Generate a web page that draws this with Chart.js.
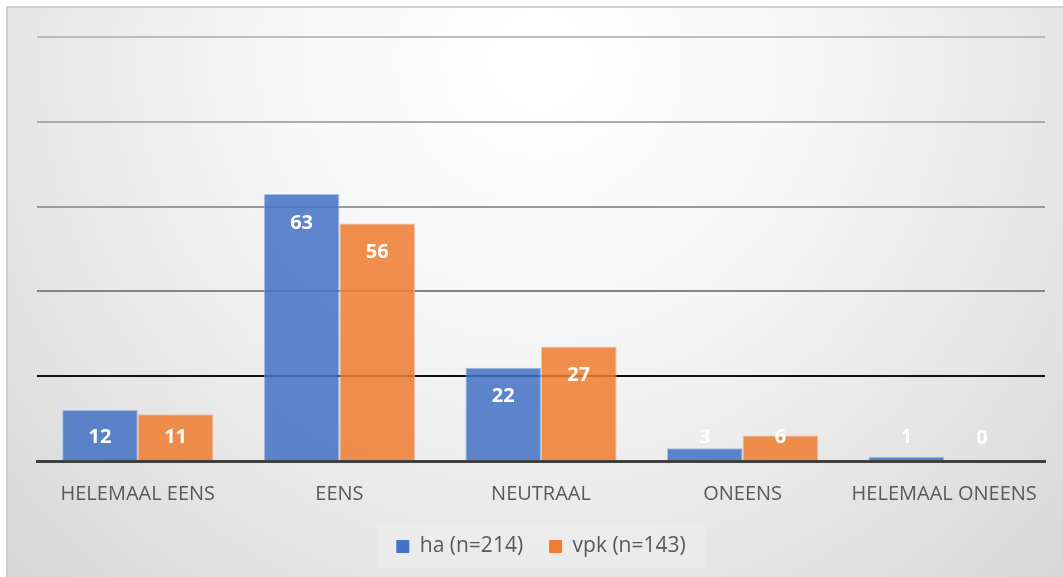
<!DOCTYPE html>
<html>
<head>
<meta charset="utf-8">
<script src="https://cdn.jsdelivr.net/npm/chart.js@4.4.1/dist/chart.umd.min.js"></script>
<style>
  html, body { margin: 0; padding: 0; background: #ffffff; }
  #wrap { position: relative; width: 1063px; height: 577px; }
  canvas { display: block; }
</style>
</head>
<body>
<div id="wrap"><canvas id="chart" width="1063" height="577"></canvas></div>
<script>
// Survey answers per group, in percent
const categories = ['HELEMAAL EENS', 'EENS', 'NEUTRAAL', 'ONEENS', 'HELEMAAL ONEENS'];
const haValues = [12, 63, 22, 3, 1];
const vpkValues = [11, 56, 27, 6, 0];
const seriesNames = ['ha (n=214)', 'vpk (n=143)'];
const yTicks = [0, 20, 40, 60, 80, 100];

const FONT = '"Open Sans", "Liberation Sans", sans-serif';
const LEGEND_PAD = 26;

// Panel: white margin, soft radial shading, thin frame, lighter band under the legend
const panelPlugin = {
  id: 'panel',
  beforeDraw(chart) {
    const ctx = chart.ctx;
    const W = chart.width, H = chart.height;
    ctx.save();
    ctx.fillStyle = '#ffffff';
    ctx.fillRect(0, 0, W, H);
    const g = ctx.createRadialGradient(540, 60, 20, 540, 60, 760);
    g.addColorStop(0, '#ffffff');
    g.addColorStop(0.35, '#f6f6f6');
    g.addColorStop(0.75, '#e2e2e2');
    g.addColorStop(1, '#d6d6d6');
    ctx.fillStyle = g;
    ctx.fillRect(7, 7, W - 7, H - 7);
    ctx.strokeStyle = '#c4c4c4';
    ctx.lineWidth = 1.5;
    ctx.beginPath();
    ctx.moveTo(7, H);
    ctx.lineTo(7, 7);
    ctx.lineTo(W, 7);
    ctx.stroke();
    const lg = chart.legend;
    if (lg) {
      const cx = (lg.left + lg.right) / 2;
      const cy = lg.top + LEGEND_PAD + 10;
      ctx.fillStyle = 'rgba(255,255,255,0.2)';
      ctx.fillRect(cx - 164, cy - 23, 328, 45);
    }
    ctx.restore();
  }
};

// Value labels: white bold, inside the top of the bar, never below a minimum height
const valueLabelPlugin = {
  id: 'valueLabels',
  afterDatasetsDraw(chart) {
    const ctx = chart.ctx;
    ctx.save();
    ctx.fillStyle = '#ffffff';
    ctx.font = 'bold 20px ' + FONT;
    ctx.textAlign = 'center';
    ctx.textBaseline = 'middle';
    chart.data.datasets.forEach((ds, di) => {
      chart.getDatasetMeta(di).data.forEach((bar, i) => {
        const y = Math.min(bar.y + 29, bar.base - 23);
        ctx.fillText(String(ds.data[i]), bar.x, y);
      });
    });
    ctx.restore();
  }
};

const gridColors = { 0: 'rgba(0,0,0,0)', 20: '#111111', 40: '#858585', 60: '#9a9a9a', 80: '#acacac', 100: '#bdbdbd' };

new Chart(document.getElementById('chart'), {
  type: 'bar',
  data: {
    labels: categories,
    datasets: [
      {
        label: seriesNames[0],
        data: haValues,
        backgroundColor: 'rgba(68,114,196,0.86)',
        borderColor: 'rgba(150,180,230,0.8)',
        borderWidth: 1,
        borderSkipped: 'bottom',
        categoryPercentage: 0.75,
        barPercentage: 1.0
      },
      {
        label: seriesNames[1],
        data: vpkValues,
        backgroundColor: 'rgba(237,125,49,0.86)',
        borderColor: 'rgba(245,180,140,0.8)',
        borderWidth: 1,
        borderSkipped: 'bottom',
        categoryPercentage: 0.75,
        barPercentage: 1.0
      }
    ]
  },
  options: {
    responsive: false,
    devicePixelRatio: 1,
    animation: false,
    layout: { padding: { left: 37, right: 18, top: 37, bottom: 10 } },
    scales: {
      x: {
        grid: { display: false, drawTicks: false },
        border: { display: true, color: '#404040', width: 3 },
        ticks: { color: '#595959', font: { family: FONT, size: 20 }, padding: 21, maxRotation: 0, autoSkip: false },
        afterFit(scale) { scale.height = 49; }
      },
      y: {
        min: 0,
        max: 100,
        afterBuildTicks(scale) { scale.ticks = yTicks.map(v => ({ value: v })); },
        ticks: { display: false },
        grid: {
          drawTicks: false,
          lineWidth: 2,
          color: ctx => gridColors[ctx.tick ? ctx.tick.value : 0] || '#bdbdbd'
        },
        border: { display: false },
        afterFit(scale) { scale.width = 0; }
      }
    },
    plugins: {
      legend: {
        position: 'bottom',
        labels: {
          boxWidth: 13,
          boxHeight: 13,
          padding: LEGEND_PAD,
          color: '#595959',
          font: { family: FONT, size: 21 },
          generateLabels(chart) {
            return chart.data.datasets.map((ds, i) => ({
              text: ds.label,
              fillStyle: i === 0 ? '#4472C4' : '#ED7D31',
              strokeStyle: 'rgba(0,0,0,0)',
              lineWidth: 0,
              datasetIndex: i,
              fontColor: '#595959'
            }));
          }
        }
      },
      tooltip: { enabled: false }
    }
  },
  plugins: [panelPlugin, valueLabelPlugin]
});
</script>
</body>
</html>
